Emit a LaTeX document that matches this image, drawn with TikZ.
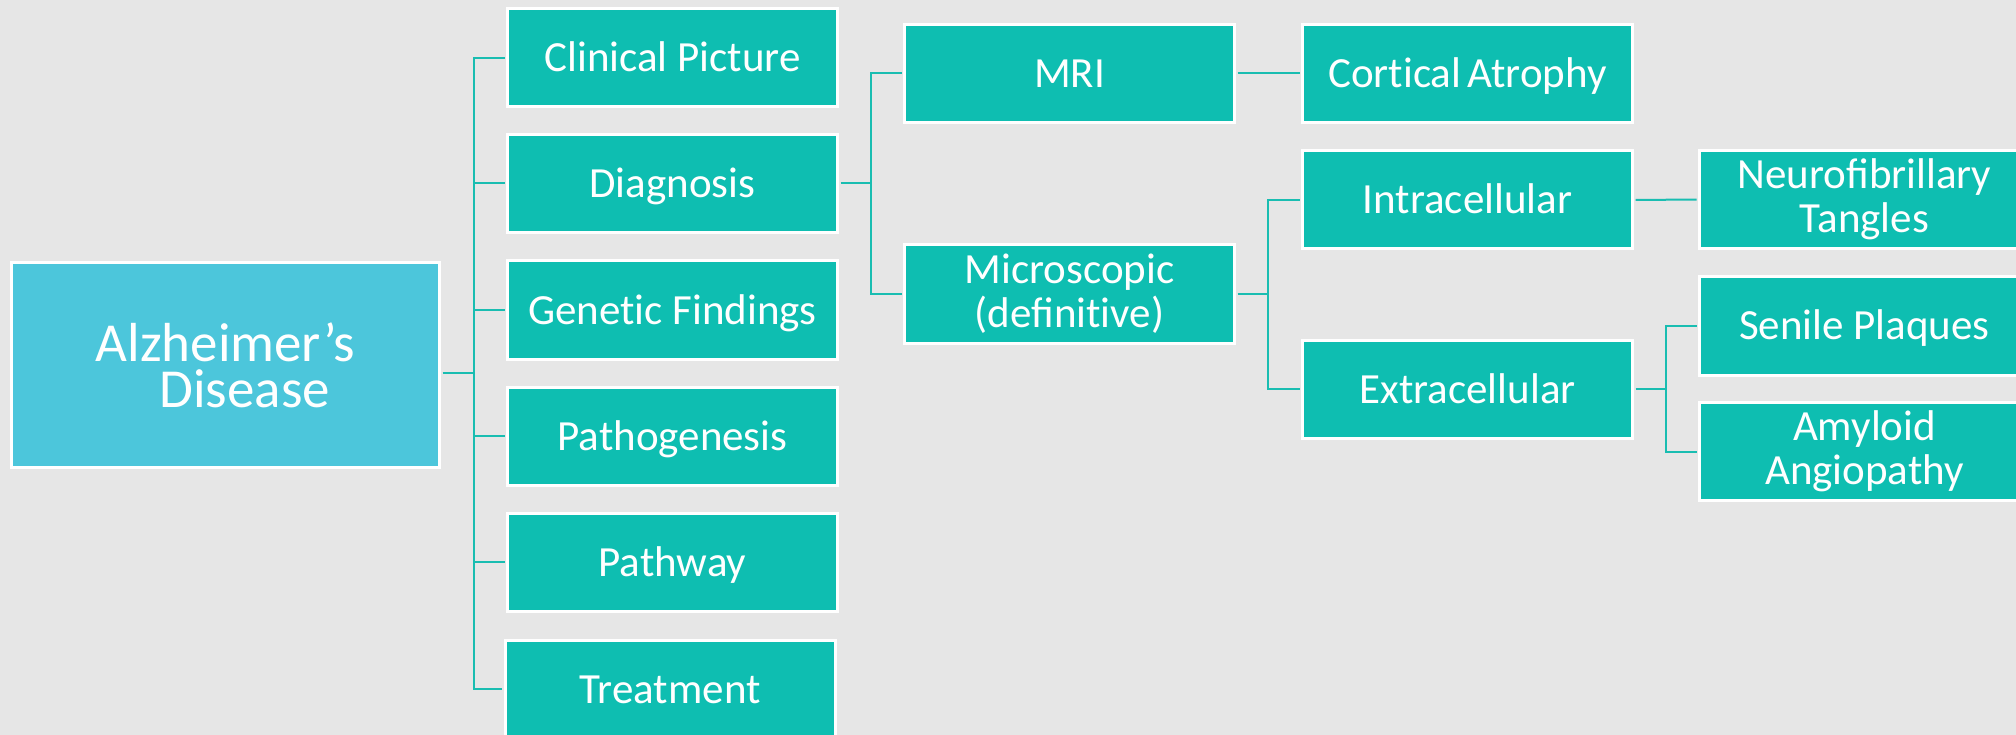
\documentclass[tikz,border=0pt]{standalone}
\usepackage{fontspec}
\setmainfont{Carlito}
\definecolor{bg}{HTML}{E6E6E6}
\definecolor{tealbox}{HTML}{0EBEB1}
\definecolor{mainbox}{HTML}{4CC6DB}
\definecolor{conncol}{HTML}{19BDB1}
\newcommand{\nolig}{\kern0pt }
\begin{document}
\begin{tikzpicture}[x=1pt,y=-1pt,
  box/.style={draw=white, line width=3pt, fill=tealbox, minimum width=330pt, minimum height=98pt,
    inner sep=0pt, text=white, align=center, font=\fontsize{43}{44}\selectfont},
  one/.style={text height=28pt, text depth=0pt},
  conn/.style={draw=conncol, line width=2pt, shorten >=1.5pt, shorten <=1.5pt}]
\useasboundingbox (0,0) rectangle (2016,735);
\clip (0,0) rectangle (2016,735);
\fill[bg] (0,0) rectangle (2016,735);

\node[box, fill=mainbox, minimum width=428pt, minimum height=205pt,
      font=\fontsize{55}{46}\selectfont] (ad) at (225.5,365) {Alzheimer’s\\\hspace*{0.7em}Disease};

\node[box,one] (cp) at (672.5,58)    {Clinical Picture};
\node[box,one] (dg) at (672.5,183.5) {Diagnosis};
\node[box,one] (gf) at (672.5,310)   {Genet\nolig ic Findings};
\node[box,one] (pg) at (672.5,436)   {Pathogenesis};
\node[box,one] (pw) at (672.5,562)   {Pathway};
\node[box,one] (tr) at (670,689)     {Treatment};

\node[box,one] (mri) at (1069.5,73.5) {MRI};
\node[box]     (mic) at (1069.5,294)  {Microscopic\\(definit\nolig ive)};

\node[box,one] (ca) at (1467.5,73.5) {Cort\nolig ical\hspace{-0.08em} Atrophy};
\node[box,one] (ic) at (1467.5,200)  {Intracellular};
\node[box,one] (ec) at (1467.5,389)  {Extracellular};

\node[box] (nt) at (1864.5,199.5) {Neurofibrillary\\Tangles};
\node[box,one] (sp) at (1864.5,326) {Senile Plaques};
\node[box] (aa) at (1864.5,451.5) {Amyloid\\Angiopathy};

\coordinate (t0) at (474,373);
\coordinate (t1) at (871,183.5);
\coordinate (t2) at (1268,294);
\coordinate (t3) at (1666,389);

\draw[conn, shorten >=0pt] ([yshift=-8pt]ad.east) -- (t0);
\foreach \n in {cp,dg,gf,pg,pw,tr} \draw[conn, shorten <=0pt] (t0) |- (\n.west);

\draw[conn, shorten >=0pt] (dg.east) -- (t1);
\foreach \n in {mri,mic} \draw[conn, shorten <=0pt] (t1) |- (\n.west);

\draw[conn] (mri.east) -- (ca.west);

\draw[conn, shorten >=0pt] (mic.east) -- (t2);
\foreach \n in {ic,ec} \draw[conn, shorten <=0pt] (t2) |- (\n.west);

\draw[conn] (ic.east) -- (nt.west);

\draw[conn, shorten >=0pt] (ec.east) -- (t3);
\foreach \n in {sp,aa} \draw[conn, shorten <=0pt] (t3) |- (\n.west);
\end{tikzpicture}
\end{document}
